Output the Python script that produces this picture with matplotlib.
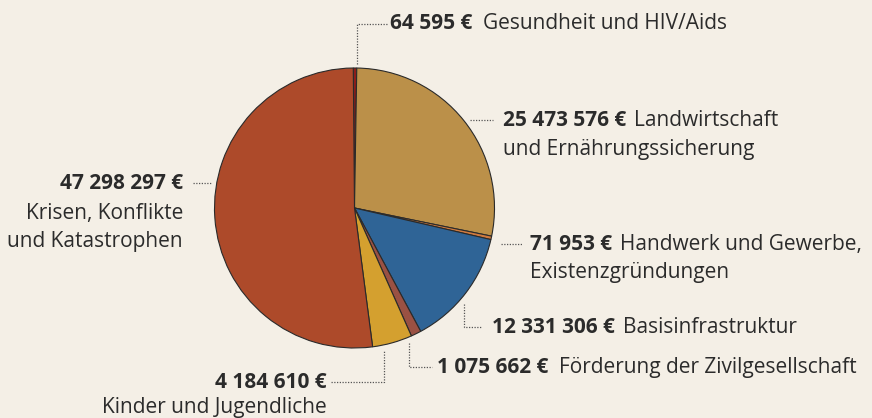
import matplotlib
matplotlib.use("Agg")
import matplotlib.pyplot as plt

# Mittelverteilung nach Sektoren (Euro)
sectors = ["Gesundheit und HIV/Aids", "Landwirtschaft\nund Ernährungssicherung",
           "Handwerk und Gewerbe,\nExistenzgründungen", "Basisinfrastruktur",
           "Förderung der Zivilgesellschaft", "Kinder und Jugendliche",
           "Krisen, Konflikte\nund Katastrophen"]
amounts = [64595, 25473576, 71953, 12331306, 1075662, 4184610, 47298297]
amount_labels = ["64 595 €", "25 473 576 €", "71 953 €", "12 331 306 €",
                 "1 075 662 €", "4 184 610 €", "47 298 297 €"]
colors = ["#8c1d1a", "#bb9049", "#cf7a3f", "#2f6496", "#9a5143", "#d4a02f", "#ad4a2a"]

BG = "#f4efe6"
INK = "#2b2b2b"
W, H = 872, 418

plt.rcParams["font.family"] = ["Open Sans", "DejaVu Sans"]

fig = plt.figure(figsize=(W / 100, H / 100), dpi=100, facecolor=BG)
ax = fig.add_axes([0, 0, 1, 1])
ax.set_facecolor(BG)


def py(y):
    # pixel y (from top) -> data y
    return H - y


# tiny slices get a minimum visible share, as in the print graphic
total = sum(amounts)
shown = [max(a, total * 0.004) for a in amounts]

ax.pie(shown, colors=colors, startangle=90.5, counterclock=False,
       center=(354.5, py(208)), radius=140, frame=True,
       wedgeprops=dict(edgecolor="#2a2a2a", linewidth=0.8))
ax.set_xlim(0, W)
ax.set_ylim(0, H)
ax.set_aspect("auto")
ax.axis("off")

fs = 15
dot = dict(color="#555555", lw=0.9, ls=(0, (1, 1.2)))


def lead(xs, ys):
    ax.plot(xs, [py(y) for y in ys], **dot)


def label(x, y, num, text, gap=8, ha="left"):
    t = ax.text(x, py(y), num, fontsize=fs, fontweight="bold", color=INK,
                ha=ha, va="baseline")
    if text:
        ax.annotate(text, xy=(1, 0), xycoords=t, xytext=(gap, 0),
                    textcoords="offset pixels", fontsize=fs, color=INK,
                    ha="left", va="bottom")
    return t


# Gesundheit
lead([357, 357, 387], [64, 24, 24])
label(390, 29, amount_labels[0], "Gesundheit und HIV/Aids", gap=11)

# Landwirtschaft
lead([470, 493], [120, 120])
label(503, 126, amount_labels[1], "Landwirtschaft")
ax.text(503, py(155), "und Ernährungssicherung", fontsize=fs, color=INK, va="baseline")

# Handwerk
lead([501, 522], [244, 244])
label(530, 250, amount_labels[2], "Handwerk und Gewerbe,")
ax.text(530, py(278), "Existenzgründungen", fontsize=fs, color=INK, va="baseline")

# Basisinfrastruktur
lead([464, 464, 482], [304, 327, 327])
label(492, 333, amount_labels[3], "Basisinfrastruktur")

# Förderung
lead([409, 409, 432], [343, 367, 367])
label(437, 373, amount_labels[4], "Förderung der Zivilgesellschaft", gap=11)

# Kinder
lead([331, 384, 384], [382, 382, 350])
label(327, 388, amount_labels[5], None, ha="right")
ax.text(327, py(413), "Kinder und Jugendliche", fontsize=fs, color=INK,
        ha="right", va="baseline")

# Krisen
lead([193, 211], [183, 183])
label(183, 189, amount_labels[6], None, ha="right")
ax.text(183, py(219), "Krisen, Konflikte", fontsize=fs, color=INK, ha="right", va="baseline")
ax.text(183, py(247), "und Katastrophen", fontsize=fs, color=INK, ha="right", va="baseline")

fig.savefig("out.png", dpi=100, facecolor=BG)
